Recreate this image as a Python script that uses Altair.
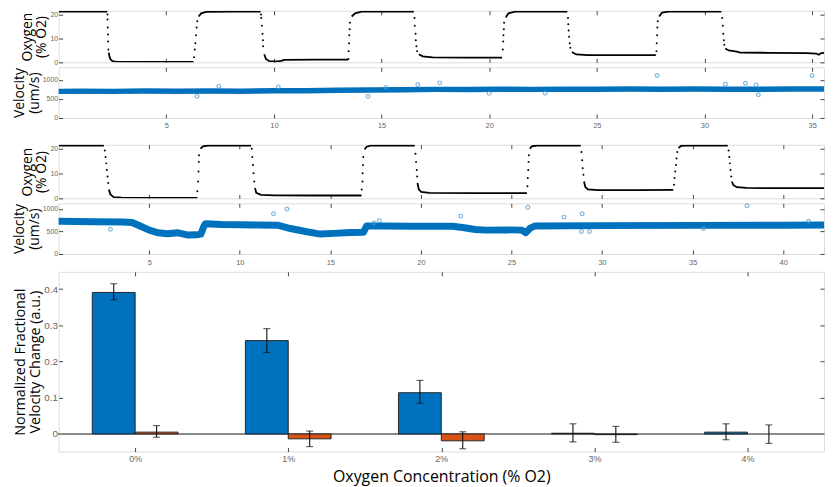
import altair as alt
import pandas as pd

# ---------------- data ----------------
# Panel 1: oxygen (% O2) vs time, experiment A  (solid plateaus / curves)
O2A_SEG = [0, 0,
           1, 1, 1, 1, 1, 1, 1,
           2, 2, 2, 2, 2,
           3, 3, 3, 3, 3, 3, 3, 3,
           4, 4, 4, 4,
           5, 5, 5, 5, 5,
           6, 6, 6, 6,
           7, 7, 7, 7, 7,
           8, 8, 8, 8,
           9, 9, 9, 9, 9, 9, 9, 9, 9, 9]
O2A_T = [0, 2.26,
         2.33, 2.36, 2.40, 2.50, 2.70, 4.5, 6.27,
         6.50, 6.62, 6.86, 8.0, 9.38,
         9.55, 9.63, 9.78, 10.16, 10.35, 10.47, 12.0, 13.44,
         13.61, 13.77, 14.07, 16.50,
         16.73, 16.91, 17.37, 19.0, 20.6,
         20.77, 20.89, 21.2, 23.63,
         23.84, 24.04, 24.58, 26.0, 27.74,
         27.89, 28.03, 28.33, 30.78,
         30.96, 31.12, 31.50, 31.66, 33.0, 34.73, 35.19, 35.31, 35.42, 35.6]
O2A_V = [21.2, 21.2,
         4.1, 2.5, 1.4, 0.5, 0.2, 0.15, 0.15,
         19.2, 20.5, 21.1, 21.2, 21.2,
         3.4, 1.4, 0.5, 0.4, 0.6, 1.05, 1.1, 1.1,
         19.2, 20.5, 21.2, 21.2,
         3.4, 2.5, 2.1, 2.0, 2.0,
         18.8, 20.5, 21.2, 21.2,
         4.3, 3.3, 3.0, 3.0, 3.0,
         19.2, 20.8, 21.2, 21.2,
         5.8, 5.0, 4.5, 4.1, 4.0, 3.9, 3.7, 3.2, 3.9, 4.0]
# Panel 1: sparse samples during the switches
O2A_DOT_T = [2.27, 2.27, 2.28, 2.29, 2.30, 2.31,
             6.29, 6.32, 6.35, 6.38, 6.41, 6.44,
             9.40, 9.41, 9.44, 9.47, 9.49, 9.50,
             13.46, 13.47, 13.49, 13.50, 13.52, 13.53,
             16.53, 16.54, 16.58, 16.59, 16.62, 16.65,
             20.63, 20.65, 20.66, 20.68, 20.69,
             23.66, 23.67, 23.69, 23.71, 23.74, 23.77,
             27.77, 27.78, 27.80, 27.81, 27.83,
             30.82, 30.85, 30.87, 30.90, 30.92]
O2A_DOT_V = [20.0, 17.9, 14.6, 11.7, 8.7, 5.4,
             2.1, 5.4, 8.0, 11.3, 14.6, 17.2,
             20.0, 18.6, 15.3, 12.0, 9.3, 6.7,
             1.4, 4.7, 8.0, 11.3, 13.9, 16.6,
             18.6, 15.3, 12.0, 9.3, 6.7, 4.7,
             5.4, 8.7, 11.3, 13.9, 16.6,
             18.6, 15.9, 13.3, 10.7, 8.0, 6.1,
             4.7, 8.0, 11.3, 14.6, 17.2,
             18.6, 15.3, 12.0, 9.3, 7.4]

# Panel 2: velocity (um/s), experiment A
VELA_T = [0, 1, 2.5, 4, 5.5, 7, 8.5, 10, 11.5, 13, 14.5, 16, 17.5, 19, 20.5,
          22, 23.5, 25, 26.5, 28, 29.5, 31, 32.5, 34, 35.6]
VELA_V = [700, 705, 700, 708, 702, 712, 705, 718, 715, 728, 735, 745, 752, 750, 756,
          752, 758, 755, 760, 757, 760, 758, 755, 760, 762]
VELA_OUT_T = [6.43, 7.44, 10.2, 14.37, 15.2, 16.68, 17.7, 20.0, 22.6, 27.8,
              30.97, 31.9, 32.4, 32.5, 35.0]
VELA_OUT_V = [571, 832, 815, 571, 806, 882, 924, 647, 655, 1117,
              890, 915, 867, 613, 1117]

# Panel 3: oxygen (% O2), experiment B
O2B_SEG = [0, 0,
           1, 1, 1, 1, 1, 1,
           2, 2, 2, 2,
           3, 3, 3, 3, 3, 3,
           4, 4, 4, 4,
           5, 5, 5, 5, 5, 5,
           6, 6, 6, 6,
           7, 7, 7, 7, 7, 7,
           8, 8, 8, 8,
           9, 9, 9, 9, 9, 9]
O2B_T = [0, 2.5,
         2.77, 2.86, 3.04, 3.50, 5.5, 7.66,
         7.83, 7.97, 8.25, 10.62,
         10.84, 10.91, 11.17, 11.90, 14.0, 16.72,
         16.89, 17.0, 17.28, 19.66,
         19.81, 19.88, 20.01, 20.46, 23.0, 25.85,
         26.01, 26.12, 26.40, 28.82,
         29.0, 29.08, 29.22, 29.77, 32.0, 33.93,
         34.22, 34.37, 34.70, 36.94,
         37.16, 37.25, 37.44, 37.98, 40.0, 42.25]
O2B_V = [21.3, 21.3,
         3.6, 1.6, 0.5, 0.26, 0.15, 0.15,
         20.0, 21.0, 21.3, 21.3,
         4.2, 2.2, 1.4, 1.2, 1.15, 1.15,
         19.7, 20.8, 21.3, 21.3,
         6.2, 3.6, 2.6, 2.2, 2.1, 2.1,
         20.0, 21.0, 21.3, 21.3,
         6.8, 4.5, 3.6, 3.3, 3.3, 3.4,
         20.3, 21.2, 21.3, 21.3,
         6.8, 5.3, 4.5, 4.2, 4.1, 4.1]
O2B_DOT_T = [2.55, 2.59, 2.63, 2.66, 2.70, 2.74,
             7.66, 7.70, 7.72, 7.74, 7.75,
             10.66, 10.69, 10.73, 10.76, 10.80,
             16.73, 16.77, 16.78, 16.80, 16.82,
             19.70, 19.73, 19.77, 19.79,
             25.88, 25.90, 25.92, 25.94, 25.96,
             28.86, 28.90, 28.93, 28.97,
             33.97, 34.00, 34.04, 34.08, 34.11, 34.15,
             36.98, 37.02, 37.05, 37.09, 37.13]
O2B_DOT_V = [19.3, 16.7, 14.1, 11.4, 8.8, 6.2,
             2.9, 6.8, 10.8, 14.7, 17.4,
             20.0, 16.7, 13.4, 10.1, 6.8,
             3.6, 6.8, 10.1, 13.4, 16.7,
             18.0, 14.7, 11.4, 8.8,
             4.9, 8.2, 11.4, 14.7, 17.4,
             18.7, 15.4, 12.1, 9.5,
             5.5, 8.2, 10.8, 13.4, 16.1, 18.7,
             19.3, 16.7, 14.1, 11.4, 8.8]

# Panel 4: velocity (um/s), experiment B
VELB_T = [0, 2, 3.5, 4.05, 4.5, 5.0, 5.5, 6.0, 6.6, 7.15, 7.6, 7.85, 8.0, 8.1,
          9, 10, 11, 12.08, 12.8, 13.7, 14.45, 15.2, 16.1, 16.83, 17.0, 18,
          19.5, 21.74, 22.3, 23.0, 23.57, 24.84, 25.57, 25.79, 26.03, 26.3,
          30, 35, 40, 42.25]
VELB_V = [725, 715, 710, 700, 620, 530, 470, 450, 470, 420, 425, 440, 600, 670,
          655, 650, 645, 638, 565, 493, 442, 457, 478, 480, 623, 620,
          615, 616, 587, 544, 529, 535, 529, 471, 575, 623,
          630, 635, 640, 642]
VELB_OUT_T = [2.86, 11.86, 12.6, 17.4, 17.7, 22.2, 25.9, 27.9, 28.9, 28.86, 29.3,
              35.6, 38.0, 41.4]
VELB_OUT_V = [551, 892, 1000, 689, 740, 841, 1037, 819, 892, 500, 500,
              565, 1073, 725]

# Panel 5: bar chart
CATS = ["0%", "1%", "2%", "3%", "4%"]
BLUE_V = [0.391, 0.258, 0.114, 0.002, 0.005]
BLUE_LO = [0.371, 0.225, 0.085, -0.022, -0.016]
BLUE_HI = [0.415, 0.291, 0.148, 0.028, 0.028]
ORANGE_V = [0.005, -0.0135, -0.019, -0.002, 0.0]
ORANGE_LO = [-0.009, -0.035, -0.041, -0.023, -0.026]
ORANGE_HI = [0.023, 0.008, 0.006, 0.021, 0.025]

# ---------------- styling ----------------
W = 771
TICK = 4
BOX = "#8a8a8a"
TICKC = "#444444"
LABC = "#666666"
FONT = "Open Sans"
LFONT = "Liberation Sans"
BLUE = "#0072BD"
ORANGE = "#D95319"
BAR_W = 0.28


def xaxis(orient, labels, values, size=7.5, pad=4, title=None, tsize=16, expr=None):
    kw = dict(orient=orient, offset=-TICK, tickSize=TICK, domain=False, grid=False,
              labels=labels, values=values, tickColor=TICKC, labelColor=LABC,
              labelFont=LFONT, labelFontSize=size, labelPadding=pad)
    if expr is not None:
        kw.update(labelExpr=expr)
    if title is not None:
        kw.update(title=title, titleFont=FONT, titleFontSize=tsize,
                  titleFontWeight="normal", titleColor="black", titlePadding=5)
    else:
        kw.update(title=None)
    return alt.Axis(**kw)


def yaxis(orient, labels, values, title=None, size=7, expr=None,
          tsize=14, tpad=1, lh=15):
    kw = dict(orient=orient, offset=-TICK, tickSize=TICK, domain=False, grid=False,
              labels=labels, values=values, tickColor=TICKC, labelColor=LABC,
              labelFont=LFONT, labelFontSize=size, labelPadding=1)
    if expr is not None:
        kw.update(labelExpr=expr)
    else:
        kw.update(format="d")
    if title is not None:
        kw.update(title=title, titleFont=FONT, titleFontSize=tsize,
                  titleFontWeight="normal", titleColor="black",
                  titlePadding=tpad, titleLineHeight=lh)
    else:
        kw.update(title=None)
    return alt.Axis(**kw)


def oxygen_panel(seg, t, v, dt, dv, xmax, xticks, h):
    xs = alt.Scale(domain=[0, xmax], nice=False, zero=False)
    ys = alt.Scale(domain=[0, 21.6], nice=False)
    line_df = pd.DataFrame({"seg": seg, "t": t, "o2": v})
    dot_df = pd.DataFrame({"t": dt, "o2": dv})
    line = alt.Chart(line_df).mark_line(color="black", strokeWidth=1.8, clip=True).encode(
        x=alt.X("t:Q", scale=xs, axis=xaxis("bottom", False, xticks)),
        y=alt.Y("o2:Q", scale=ys,
                axis=yaxis("left", True, [0, 10, 20], title=["Oxygen", "(% O2)"])),
        detail="seg:N",
    )
    dots = alt.Chart(dot_df).mark_circle(color="black", size=4, opacity=1).encode(
        x=alt.X("t:Q", scale=xs, axis=xaxis("top", False, xticks)),
        y=alt.Y("o2:Q", scale=ys, axis=yaxis("right", False, [0, 10, 20])),
    )
    return alt.layer(line, dots).resolve_axis(x="independent", y="independent").properties(
        width=W, height=h)


def velocity_panel(t, v, ot, ov, xmax, xticks, ymax, h, sw, lpad):
    xs = alt.Scale(domain=[0, xmax], nice=False, zero=False)
    ys = alt.Scale(domain=[0, ymax], nice=False)
    band_df = pd.DataFrame({"t": t, "v": v})
    out_df = pd.DataFrame({"t": ot, "v": ov})
    band = alt.Chart(band_df).mark_line(color=BLUE, strokeWidth=sw, strokeCap="round",
                                        strokeJoin="round", clip=True).encode(
        x=alt.X("t:Q", scale=xs, axis=xaxis("bottom", True, xticks, pad=lpad)),
        y=alt.Y("v:Q", scale=ys,
                axis=yaxis("left", True, [0, 500, 1000], title=["Velocity", "(um/s)"])),
    )
    outs = alt.Chart(out_df).mark_point(shape="circle", filled=False, size=14,
                                        color="#4a9bd6", strokeWidth=1.2).encode(
        x=alt.X("t:Q", scale=xs, axis=xaxis("top", False, xticks)),
        y=alt.Y("v:Q", scale=ys, axis=yaxis("right", False, [0, 500, 1000])),
    )
    return alt.layer(band, outs).resolve_axis(x="independent", y="independent").properties(
        width=W, height=h)


def spacer(h):
    return alt.Chart(pd.DataFrame({"a": [0]})).mark_point(opacity=0).encode(
        x=alt.X("a:Q", axis=None), y=alt.Y("a:Q", axis=None)
    ).properties(width=W, height=h, view=alt.ViewBackground(strokeOpacity=0))


p1 = oxygen_panel(O2A_SEG, O2A_T, O2A_V, O2A_DOT_T, O2A_DOT_V, 35.55,
                  [5, 10, 15, 20, 25, 30, 35], 52)
p2 = velocity_panel(VELA_T, VELA_V, VELA_OUT_T, VELA_OUT_V, 35.55,
                    [5, 10, 15, 20, 25, 30, 35], 1333, 51, 5.5, 4)
p3 = oxygen_panel(O2B_SEG, O2B_T, O2B_V, O2B_DOT_T, O2B_DOT_V, 42.25,
                  [5, 10, 15, 20, 25, 30, 35, 40], 54)
p4 = velocity_panel(VELB_T, VELB_V, VELB_OUT_T, VELB_OUT_V, 42.25,
                    [5, 10, 15, 20, 25, 30, 35, 40], 1125, 51, 7, 5)

# ---- bar chart ----
rows = []
for i, c in enumerate(CATS):
    rows.append(dict(idx=i, s="blue", v=BLUE_V[i], lo=BLUE_LO[i], hi=BLUE_HI[i]))
    rows.append(dict(idx=i, s="orange", v=ORANGE_V[i], lo=ORANGE_LO[i], hi=ORANGE_HI[i]))
bdf = pd.DataFrame(rows)
bdf["x0"] = bdf["idx"] + bdf["s"].map({"blue": -BAR_W, "orange": 0.0})
bdf["x1"] = bdf["x0"] + BAR_W
bdf["xc"] = (bdf["x0"] + bdf["x1"]) / 2
bdf["zero"] = 0.0

bxs = alt.Scale(domain=[-0.5, 4.5], nice=False, zero=False)
bys = alt.Scale(domain=[-0.0485, 0.448], nice=False, zero=False)
cat_expr = "[" + ",".join("'%s'" % c for c in CATS) + "][datum.value]"
yvals = [0, 0.1, 0.2, 0.3, 0.4]

zero_line = alt.Chart(bdf).mark_rule(color="#8a8a8a", strokeWidth=1).encode(
    y=alt.YDatum(0, scale=bys, axis=None)
)
bars = alt.Chart(bdf).mark_bar(stroke="#1a1a1a", strokeWidth=0.9).encode(
    x=alt.X("x0:Q", scale=bxs,
            axis=xaxis("bottom", True, [0, 1, 2, 3, 4], size=9, pad=3,
                       title="Oxygen Concentration (% O2)", tsize=16, expr=cat_expr)),
    x2="x1:Q",
    y=alt.Y("v:Q", scale=bys,
            axis=yaxis("left", True, yvals,
                       title=["Normalized Fractional", "Velocity Change (a.u.)"],
                       size=10, expr="datum.value == 0 ? '0' : format(datum.value, '.1f')",
                       tsize=14.5, tpad=1, lh=15.5)),
    y2="zero:Q",
    color=alt.Color("s:N", scale=alt.Scale(domain=["blue", "orange"], range=[BLUE, ORANGE]),
                    legend=None),
    strokeOpacity=alt.condition(alt.datum.v == 0, alt.value(0), alt.value(1)),
)
err = alt.Chart(bdf).mark_rule(color="#111111", strokeWidth=1.1).encode(
    x=alt.X("xc:Q", scale=bxs, axis=xaxis("top", False, [0, 1, 2, 3, 4])),
    y=alt.Y("lo:Q", scale=bys, axis=yaxis("right", False, yvals, expr="''")),
    y2="hi:Q",
)
cap_lo = alt.Chart(bdf).mark_tick(orient="horizontal", size=7, thickness=1.1,
                                  color="#111111").encode(
    x=alt.X("xc:Q", scale=bxs, axis=None),
    y=alt.Y("lo:Q", scale=bys, axis=None),
)
cap_hi = alt.Chart(bdf).mark_tick(orient="horizontal", size=7, thickness=1.1,
                                  color="#111111").encode(
    x=alt.X("xc:Q", scale=bxs, axis=None),
    y=alt.Y("hi:Q", scale=bys, axis=None),
)
p5 = alt.layer(zero_line, bars, err, cap_lo, cap_hi).resolve_axis(
    x="independent", y="independent").properties(width=W, height=181)

chart = alt.vconcat(p1, p2, spacer(17), p3, p4, spacer(8), p5,
                    spacing=5, bounds="flush").properties(
    padding={"left": 3, "top": 0, "right": 0, "bottom": 0}
).configure_view(stroke=BOX, strokeWidth=1).configure(background="white")

chart.save("out.html", embed_options={"renderer": "svg", "actions": False})
